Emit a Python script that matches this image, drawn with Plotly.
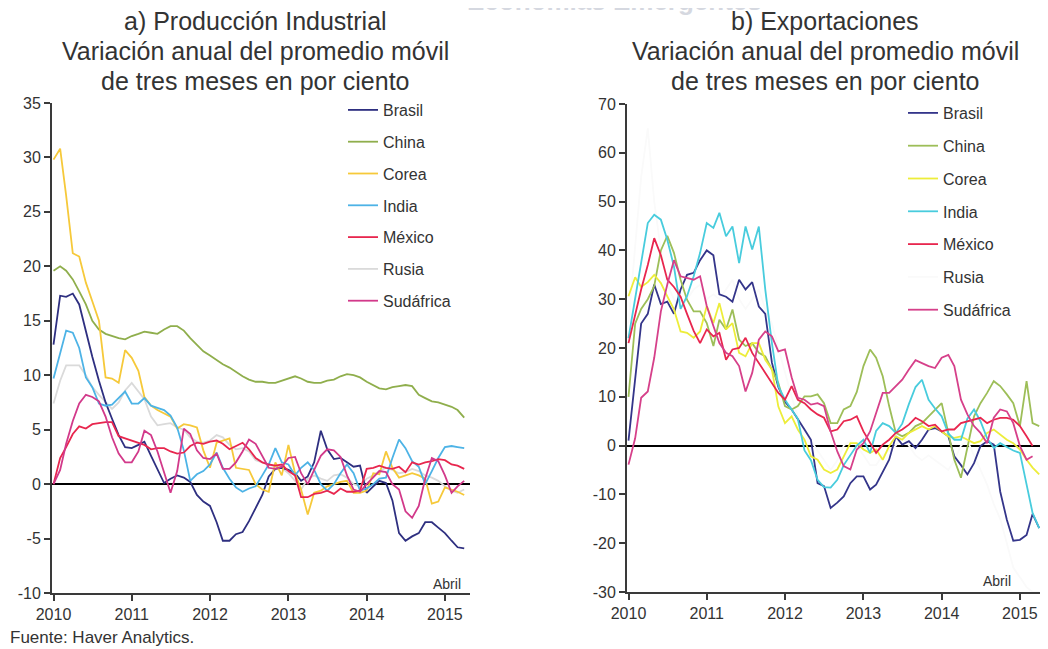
import pandas as pd
import plotly.graph_objects as go

# monthly observations, Jan 2010 - Apr 2015
months = pd.date_range("2010-01-01", periods=64, freq="MS")
years = ["2010", "2011", "2012", "2013", "2014", "2015"]
countries = ["Brasil", "China", "Corea", "India", "México", "Rusia", "Sudáfrica"]
yticks_a = [-10, -5, 0, 5, 10, 15, 20, 25, 30, 35]
yticks_b = [-30, -20, -10, 0, 10, 20, 30, 40, 50, 60, 70]

# a) Producción industrial
ip_brasil = [12.8, 17.3, 17.2, 17.5, 16.5, 14.0, 11.7, 9.5, 7.5, 6.0, 4.5, 3.4,
             3.3, 3.6, 3.9, 2.6, 1.3, 0.1, 0.5, 0.8, 0.6, 0.2, -1.0, -1.6,
             -2.0, -3.5, -5.2, -5.2, -4.6, -4.4, -3.4, -2.2, -1.0, 0.7, 1.4, 1.5,
             1.3, 1.0, 0.3, 0.7, 2.0, 4.9, 3.2, 2.3, 2.4, 2.0, 1.6, 1.7,
             -0.8, -0.2, 0.3, 0.1, -1.5, -4.5, -5.2, -4.8, -4.5, -3.5, -3.5, -4.0,
             -4.5, -5.2, -5.8, -5.9]
ip_china = [19.6, 20.0, 19.6, 18.8, 17.7, 16.5, 15.0, 14.2, 13.8, 13.6, 13.4, 13.3,
            13.6, 13.8, 14.0, 13.9, 13.8, 14.2, 14.5, 14.5, 14.1, 13.4, 12.8, 12.2,
            11.8, 11.4, 11.0, 10.7, 10.3, 9.9, 9.6, 9.4, 9.4, 9.3, 9.3, 9.5,
            9.7, 9.9, 9.7, 9.4, 9.3, 9.3, 9.5, 9.6, 9.9, 10.1, 10.0, 9.8,
            9.4, 9.1, 8.8, 8.7, 8.9, 9.0, 9.1, 9.0, 8.2, 7.9, 7.6, 7.5,
            7.3, 7.1, 6.8, 6.1]
ip_corea = [29.8, 30.8, 26.5, 21.2, 20.9, 18.5, 16.8, 15.0, 9.8, 9.7, 9.3, 12.3,
            11.6, 10.4, 8.0, 7.2, 6.8, 6.5, 6.2, 5.1, 5.5, 5.4, 5.2, 3.1,
            1.5, 3.8, 4.0, 4.2, 1.5, 1.4, 1.3, 0.0, -0.5, -0.7, 2.0, 0.8,
            3.6, 1.0, -0.5, -2.8, -0.8, -0.6, -0.2, 0.0, 0.2, 0.3, -0.8, -0.8,
            -0.6, 1.0, 0.9, 3.0, 1.5, 0.6, 0.8, 1.0, 0.8, 0.5, -1.8, -1.6,
            -0.3, -0.5, -0.7, -1.0]
ip_india = [9.7, 12.0, 14.1, 13.9, 12.5, 9.8, 8.9, 7.4, 7.2, 7.3, 7.9, 8.5,
            7.4, 7.4, 7.9, 7.2, 7.0, 6.8, 6.3, 5.2, 3.1, 0.3, 0.9, 1.2,
            1.8, 2.9, 1.5, 0.5, -0.3, -0.7, -0.4, -0.2, 0.8, 1.8, 3.3, 2.0,
            1.8, 0.8, 1.5, 2.0, 1.3, 0.0, -0.6, 0.0, 1.0, 1.8, 1.0, -0.6,
            -0.4, 0.0, 0.5, 0.6, 2.4, 4.1, 3.3, 2.1, 1.6, 0.0, 1.2, 2.4,
            3.4, 3.5, 3.4, 3.3]
ip_mexico = [0.0, 2.4, 3.4, 4.6, 5.3, 5.1, 5.5, 5.6, 5.7, 5.7, 4.4, 4.2,
             4.0, 3.8, 3.6, 3.2, 3.3, 3.3, 3.0, 2.8, 2.9, 3.5, 3.8, 3.7,
             3.9, 4.0, 3.7, 3.2, 3.5, 3.8, 3.2, 2.4, 2.0, 1.8, 1.7, 1.8,
             1.2, 0.8, -1.2, -1.2, -0.9, -0.8, -0.6, -0.9, -0.4, -0.7, -0.7, -0.6,
             1.4, 1.5, 1.7, 1.5, 1.4, 1.6, 1.1, 2.0, 1.8, 2.0, 2.1, 2.3,
             2.2, 1.8, 1.7, 1.4]
ip_rusia = [7.4, 9.5, 10.9, 10.9, 10.9, 10.0, 8.9, 8.2, 7.5, 6.9, 7.5, 8.6,
            9.3, 8.5, 7.8, 6.2, 5.4, 5.5, 5.6, 5.2, 5.0, 4.3, 3.9, 3.8,
            4.0, 4.5, 4.3, 3.6, 3.2, 3.3, 3.0, 2.2, 2.0, 1.8, 1.6, 1.5,
            1.0, 0.3, -0.5, 0.5, 0.8, 0.5, 0.3, 0.8, 0.9, 0.6, 0.0, -0.2,
            0.5, 0.8, 1.2, 1.5, 1.3, 1.0, 1.1, 1.4, 1.2, 0.8, 0.6, 0.3,
            -0.2, -0.6, -0.8, -0.5]
ip_sudafrica = [0.0, 1.3, 3.7, 5.8, 7.4, 8.2, 8.0, 7.6, 6.2, 4.3, 2.8, 2.0,
                2.0, 3.0, 4.9, 4.5, 3.0, 1.0, -0.8, 1.2, 5.1, 4.6, 3.1, 2.4,
                2.3, 2.8, 1.4, 1.4, 2.0, 3.0, 4.1, 3.7, 2.6, 1.5, 1.4, 1.6,
                2.4, 2.5, 1.0, 0.0, 1.3, 2.6, 3.2, 3.1, 2.5, 0.8, -0.5, -0.7,
                0.0, 0.6, 1.2, 1.1, 0.0, -0.5, -2.5, -3.1, -2.0, 0.5, 2.4, 2.1,
                0.8, -0.8, -0.2, 0.3]

# b) Exportaciones
ex_brasil = [1, 13, 25, 27, 33, 29, 29.5, 27, 32, 35, 35.4, 38,
             40, 39, 31, 30.5, 29.5, 34, 32, 33.5, 28.5, 27, 17, 12,
             9, 7.4, 5.3, 3.3, 1.2, -7.7, -8.3, -12.8, -11.7, -10.4, -7.7, -6.3,
             -6.3, -9, -8, -5.3, -2.9, 1.9, 0.2, 0.9, -0.5, 1.2, 3.3, 3.6,
             2.9, 1.9, -2.2, -4, -5.9, -3.6, -0.1, 0.9, 0.2, -9.4, -15.2, -19.5,
             -19.3, -18.3, -14, -16.9]
ex_china = [10, 25, 28, 30, 32.7, 40, 43, 39.5, 34, 29.9, 27.5, 27.5,
            25.1, 20.4, 25.8, 23.8, 27.9, 21.7, 20.4, 21, 19, 18.3, 15.6, 12.8,
            8.1, 7.4, 8.1, 10.1, 10.1, 10.5, 8.7, 4.6, 4.6, 7.4, 8.1, 11,
            16.3, 19.7, 18, 14.2, 8.1, 2.6, 1.9, 2.6, 4, 4.6, 6, 7.4,
            8.7, 2.6, -2.9, -6.6, -0.1, 6, 8.7, 10.8, 13.2, 12.2, 10.5, 8.7,
            4, 13.2, 4.6, 4]
ex_corea = [30.6, 34.5, 32.5, 33.5, 35, 33.3, 30.6, 27.9, 23.4, 23.1, 22.1, 23.4,
            28.6, 25.1, 29.2, 23.8, 25.1, 19, 18.3, 21, 21, 17.6, 15.6, 8,
            4.6, 6, 3.3, 1.2, -2.2, -2.9, -4.9, -5.6, -4.9, -2.2, 0.5, 0.5,
            -0.8, -1.5, -0.8, -2.9, -0.1, 1.9, 1.2, 2.6, 3.3, 4, 3.3, 4,
            2.9, 1.9, 1.6, 1.9, 1.2, 0.5, 0.9, 2.6, 3.3, 2.3, 1.2, 0.5,
            -0.8, -2.9, -4.5, -5.9]
ex_india = [22, 30, 38, 45.6, 47.3, 46.3, 42.2, 36.7, 28, 30.6, 34.7, 39.5,
            45.6, 44.6, 47.7, 42.9, 44.9, 37.4, 44.9, 40.2, 44.9, 32, 21, 12.2,
            9.4, 7.5, 5.5, -1, -3, -7, -8.5, -8.6, -7, -4, -2, 0,
            1.2, -1.5, 3, 4.6, 4, 2.6, 4.5, 8.5, 12, 13.5, 9.4, 7.6,
            6, 2.5, 1.2, 1.2, 5.5, 7.4, 5, 1.5, -0.5, 0.5, -0.3, -1.0,
            -1.5, -8.3, -13.8, -16.9]
ex_mexico = [21, 27, 32, 37, 42.5, 39, 34, 32.5, 30.5, 27, 23.5, 21,
             23.8, 22.4, 23.1, 17.6, 19.7, 20, 22.1, 19, 16.9, 14.9, 12.8, 10.8,
             9.4, 12.2, 9.4, 8.7, 7.4, 6.4, 5.7, 2.9, 3.3, 5, 5.3, 6,
             2.9, 0.5, -1.5, 0.2, 1.2, 2.6, 3.3, 4.3, 5.7, 5, 4, 4.3,
             2.9, 3.3, 3.3, 4.6, 5, 5.3, 5.7, 4.6, 5.3, 5.7, 5.7, 5.3,
             4, 1.9, -0.1, None]
ex_rusia = [25, 40, 55, 65, 50, 40, 33, 30, 28, 30, 32, 33,
            30, 31, 30, 32, 34, 30, 28, 30, 32, 28, 25, 20,
            15, 10, 6, 3, 1, -1, -3, -5, -3, 0, 1, 0,
            -2, -4, -4, -2, -1, 0, 2, 0, -2, -3, -2, -3,
            -4, -5, -3, 0, 1, -2, -5, -8, -12, -15, -20, -25,
            -27, -29, -30, -30]
ex_sudafrica = [-3.9, 1.5, 9.8, 11.1, 18, 27.5, 33, 38, 34.7, 34.4, 34, 34.7,
                28.6, 24.5, 21, 19, 18.3, 16.3, 11.1, 14.9, 21.7, 23.4, 22.4, 19.3,
                19.7, 14, 9.8, 9.4, 8.4, 8.7, 8.1, 2.9, -1.2, -4.2, -4.9, -0.8,
                0.5, 2.9, 6.7, 10.8, 10.8, 12.2, 13.5, 15.6, 17.5, 16.9, 16.3, 15.9,
                18, 18.6, 16.3, 9.4, 6.4, 4, 2.6, 0.5, 5.7, 7.4, 7, 4.6,
                -0.1, -2.9, -2.2, None]

colors_a = ["#2E2F80", "#8FAE4C", "#F6C93A", "#4DB3E6", "#E8264E", "#DADADA", "#D2398A"]
colors_b = ["#34358A", "#9DBE58", "#EDED3A", "#48CCDD", "#E8264E", "#FAFAFA", "#D6408A"]

FONT = "Liberation Sans, Arial, sans-serif"
TXT = "#333333"
AXC = "#3A3A3A"

W, H = 1048, 649
# the page body adds an 8px offset, so positions are given in page pixels
OFF = 8


def px(x):
    return (x - OFF) / W


def py(y):
    return 1 - (y - OFF) / H


fig = go.Figure()

series_a = [ip_brasil, ip_china, ip_corea, ip_india, ip_mexico, ip_rusia, ip_sudafrica]
series_b = [ex_brasil, ex_china, ex_corea, ex_india, ex_mexico, ex_rusia, ex_sudafrica]

# draw Rusia first so it sits underneath
order = [5, 0, 1, 2, 3, 4, 6]
for i in order:
    fig.add_trace(go.Scatter(
        x=months, y=series_a[i], mode="lines", name=countries[i],
        line=dict(color=colors_a[i], width=1.8),
        xaxis="x", yaxis="y", legend="legend", legendgroup="a" + str(i),
        legendrank=i, hoverinfo="skip"))
for i in order:
    fig.add_trace(go.Scatter(
        x=months, y=series_b[i], mode="lines", name=countries[i],
        line=dict(color=colors_b[i], width=1.8),
        xaxis="x2", yaxis="y2", legend="legend2", legendgroup="b" + str(i),
        legendrank=i, hoverinfo="skip"))

xrange = ["2009-12-25", "2015-04-28"]
tickdates = [y + "-01-01" for y in years]

xcommon = dict(type="date", range=xrange, tickvals=tickdates, ticktext=years,
               showgrid=False, zeroline=False, showline=True, linecolor=AXC,
               linewidth=2, ticks="outside", ticklen=6, tickwidth=2, tickcolor=AXC,
               automargin=False,
               tickfont=dict(family=FONT, size=16, color=TXT))
ycommon = dict(showgrid=False, zeroline=True, zerolinecolor="#000000", zerolinewidth=2,
               showline=True, linecolor=AXC, linewidth=2, ticks="outside", ticklen=6,
               tickwidth=2, tickcolor=AXC, automargin=False,
               tickfont=dict(family=FONT, size=16, color=TXT))

legcommon = dict(font=dict(family=FONT, size=16, color=TXT), bgcolor="rgba(0,0,0,0)",
                 itemwidth=30, xanchor="left", yanchor="top",
                 traceorder="grouped")

annotations = []
titles = [("a) Producción Industrial", "Variación anual del promedio móvil",
           "de tres meses en por ciento"),
          ("b) Exportaciones", "Variación anual del promedio móvil",
           "de tres meses en por ciento")]
for cx, lines in zip([255, 825], titles):
    for k, t in enumerate(lines):
        annotations.append(dict(text=t, x=px(cx), y=py(21 + 30 * k),
                                xref="paper", yref="paper", showarrow=False,
                                xanchor="center", yanchor="middle",
                                font=dict(family=FONT, size=25, color=TXT)))

annotations += [
    dict(text="Abril", x=px(447), y=py(584), xref="paper", yref="paper",
         showarrow=False, xanchor="center", yanchor="middle",
         font=dict(family=FONT, size=14, color=TXT)),
    dict(text="Abril", x=px(997), y=py(581), xref="paper", yref="paper",
         showarrow=False, xanchor="center", yanchor="middle",
         font=dict(family=FONT, size=14, color=TXT)),
    dict(text="Fuente: Haver Analytics.", x=px(8), y=py(637), xref="paper",
         yref="paper", showarrow=False, xanchor="left", yanchor="middle",
         font=dict(family=FONT, size=17, color=TXT)),
    # header of the page, mostly cropped away at the top edge
    dict(text="<b>Economías Emergentes</b>", x=px(764), y=py(1), xref="paper",
         yref="paper", showarrow=False, xanchor="right", yanchor="middle",
         font=dict(family=FONT, size=26, color="#D5D8E0")),
]

fig.update_layout(
    width=W, height=H, margin=dict(l=0, r=0, t=0, b=0, autoexpand=False),
    paper_bgcolor="white", plot_bgcolor="white",
    xaxis=dict(xcommon, domain=[px(52), px(470)], anchor="y"),
    yaxis=dict(ycommon, domain=[py(593), py(103)], range=[-10, 35],
               tickvals=yticks_a, ticktext=[str(v) for v in yticks_a], anchor="x"),
    xaxis2=dict(xcommon, domain=[px(627), px(1045)], anchor="y2"),
    yaxis2=dict(ycommon, domain=[py(592), py(104)], range=[-30, 70],
                tickvals=yticks_b, ticktext=[str(v) for v in yticks_b], anchor="x2"),
    legend=dict(legcommon, x=px(343), y=py(93), tracegroupgap=8),
    legend2=dict(legcommon, x=px(903), y=py(96), tracegroupgap=9),
    annotations=annotations,
    showlegend=True,
)

fig.write_html("out.html")
